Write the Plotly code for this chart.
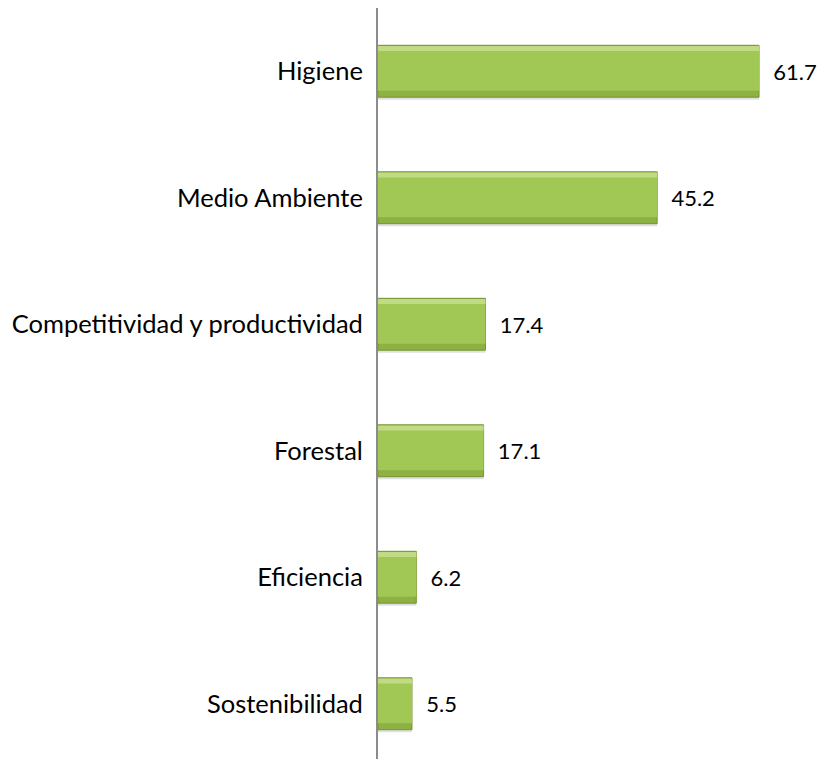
import plotly.graph_objects as go

categories = ["Higiene", "Medio Ambiente", "Competitividad y productividad",
              "Forestal", "Eficiencia", "Sostenibilidad"]
values = [61.7, 45.2, 17.4, 17.1, 6.2, 5.5]
value_labels = ["61.7", "45.2", "17.4", "17.1", "6.2", "5.5"]

FONT = "Lato"
FS = 25.5
VFS = 22
NB = "\u00a0\u00a0"

fig = go.Figure()
# soft shadow
fig.add_trace(go.Bar(
    y=categories, x=values, orientation="h", width=0.41, offset=-0.185,
    marker=dict(color="rgba(0,0,0,0.12)", line=dict(width=0)),
    hoverinfo="skip",
))
# bar body (darker bevel edge)
fig.add_trace(go.Bar(
    y=categories, x=values, orientation="h", width=0.41, offset=-0.205,
    marker=dict(color="#8DB143", line=dict(color="#74942F", width=1)),
    text=[NB + t for t in value_labels], textposition="outside",
    textfont=dict(family=FONT, size=VFS, color="#000000"),
    cliponaxis=False,
))
# main face
fig.add_trace(go.Bar(
    y=categories, x=values, orientation="h", width=0.345, offset=-0.19,
    marker=dict(color="#A1C754", line=dict(width=0)),
    hoverinfo="skip",
))
# top highlight band
fig.add_trace(go.Bar(
    y=categories, x=values, orientation="h", width=0.04, offset=-0.2,
    marker=dict(color="#C0DB83", line=dict(width=0)),
    hoverinfo="skip",
))
fig.update_layout(
    width=827, height=759,
    barmode="overlay",
    margin=dict(l=370, r=0, t=0, b=0),
    paper_bgcolor="white", plot_bgcolor="white",
    showlegend=False,
    font=dict(family=FONT, size=FS, color="#000000"),
    xaxis=dict(range=[0, 74], visible=False, fixedrange=True),
    yaxis=dict(autorange="reversed", showline=True, linecolor="#8C8C8C", linewidth=2,
               ticks="", showgrid=False, ticklabelstandoff=8, automargin=False,
               tickfont=dict(family=FONT, size=FS, color="#000000")),
)
fig.write_html("out.html")
